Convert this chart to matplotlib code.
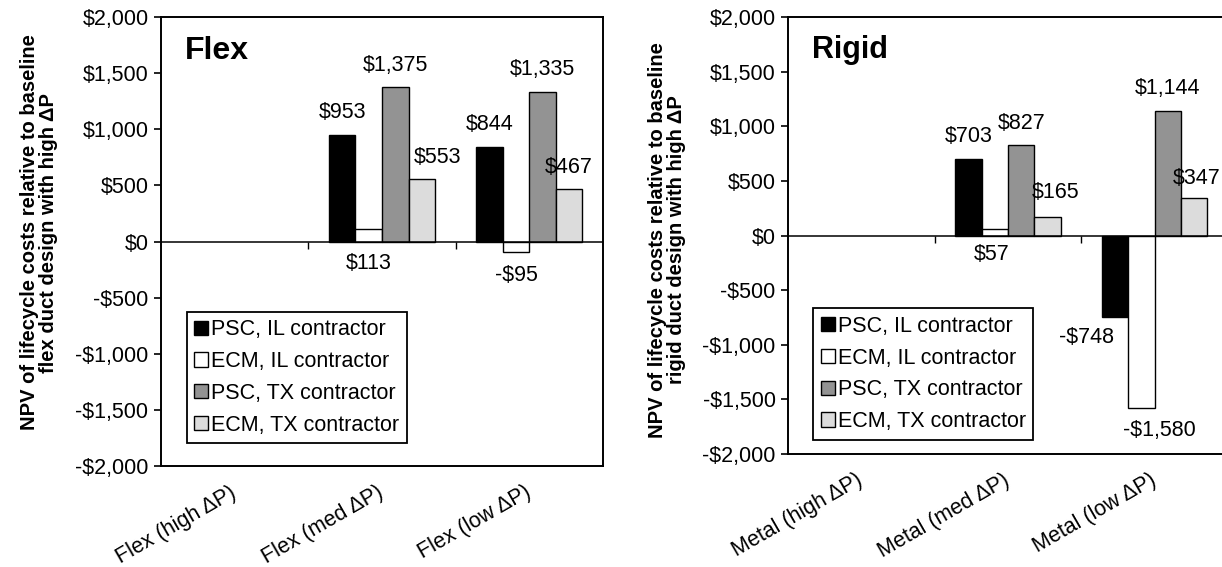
import matplotlib
matplotlib.use("Agg")
import matplotlib.pyplot as plt
from matplotlib.ticker import FuncFormatter, FixedLocator
from matplotlib.markers import TICKDOWN
import numpy as np

plt.rcParams['font.family'] = ['Liberation Sans', 'DejaVu Sans']

SERIES = ["PSC, IL contractor", "ECM, IL contractor",
          "PSC, TX contractor", "ECM, TX contractor"]
COLORS = ["#000000", "#ffffff", "#939393", "#dcdcdc"]

FLEX_CATS = ["Flex (high \u0394P)", "Flex (med \u0394P)", "Flex (low \u0394P)"]
RIGID_CATS = ["Metal (high \u0394P)", "Metal (med \u0394P)", "Metal (low \u0394P)"]

# values per series, across the three categories
FLEX_PSC_IL = [0, 953, 844]
FLEX_ECM_IL = [0, 113, -95]
FLEX_PSC_TX = [0, 1375, 1335]
FLEX_ECM_TX = [0, 553, 467]

RIGID_PSC_IL = [0, 703, -748]
RIGID_ECM_IL = [0, 57, -1580]
RIGID_PSC_TX = [0, 827, 1144]
RIGID_ECM_TX = [0, 165, 347]

# label placement tweaks (pixels): (category, series) -> (anchor_at_base, dx, dy)
FLEX_LABEL_TWEAKS = {(1, 1): (True, 0, -22), (1, 3): (False, 16, 22)}
RIGID_LABEL_TWEAKS = {(1, 1): (True, -3, -19), (1, 3): (False, 8, 25),
                      (2, 3): (False, 2, 19), (2, 0): (False, -29, -20),
                      (2, 1): (False, 18, -22)}

W = 1222
H = 567
BAR_W = 0.18
FS = 15.5


def money(v, pos=None):
    v = int(round(v))
    return f"-${abs(v):,}" if v < 0 else f"${v:,}"


def panel(rect, cats, values, title, title_fs, ylabel, tweaks, legend_anchor, ylabel_y):
    ax = fig.add_axes(rect)
    x = np.arange(len(cats))
    for i, (name, vals, col) in enumerate(zip(SERIES, values, COLORS)):
        xs = x + (i - 1.5) * BAR_W
        lws = [0 if v == 0 else 1.0 for v in vals]
        ax.bar(xs, vals, BAR_W, color=col, edgecolor="black", linewidth=lws,
               label=name, zorder=2)
        for j, (xx, v) in enumerate(zip(xs, vals)):
            if v == 0:
                continue
            at_base, dx, dy = tweaks.get((j, i), (False, 0, 22 if v > 0 else -23))
            yy = 0 if at_base else v
            ax.annotate(money(v), (xx, yy), xytext=(dx, dy),
                        textcoords="offset pixels", ha="center", va="center",
                        fontsize=FS, zorder=4)
    ax.axhline(0, color="black", linewidth=1.1, zorder=3)
    # category boundary tick marks on the zero line
    bounds = x[:-1] + 0.5
    ax.plot(bounds, np.zeros_like(bounds), linestyle="none", marker=TICKDOWN,
            markersize=5, markeredgewidth=1.0, color="black", zorder=3,
            clip_on=False)
    ax.set_xlim(-0.5, len(cats) - 0.5)
    ax.set_ylim(-2000, 2000)
    ax.yaxis.set_major_locator(FixedLocator(np.arange(-2000, 2001, 500)))
    ax.yaxis.set_major_formatter(FuncFormatter(money))
    ax.tick_params(axis="y", direction="out", length=5, width=1.2,
                   labelsize=FS, pad=4)
    ax.set_xticks(x)
    ax.set_xticklabels(cats, rotation=30, ha="right", va="center",
                       rotation_mode="anchor", fontsize=FS)
    ax.tick_params(axis="x", length=0, pad=18)
    for s in ax.spines.values():
        s.set_linewidth(1.4)
        s.set_color("black")
    ax.text(0.055, 0.925, title, transform=ax.transAxes, fontsize=title_fs,
            fontweight="bold", ha="left", va="center")
    ax.set_ylabel(ylabel, fontsize=14.5, fontweight="bold", linespacing=1.0)
    ax.yaxis.set_label_coords(-0.232, ylabel_y)
    leg = ax.legend(loc="lower left", bbox_to_anchor=legend_anchor,
                    borderaxespad=0, fontsize=FS, frameon=True, fancybox=False,
                    edgecolor="black", framealpha=1, handlelength=0.65,
                    handleheight=0.65, handletextpad=0.15, labelspacing=0.5,
                    borderpad=0.35)
    leg.get_frame().set_linewidth(1.3)
    for h in leg.legend_handles:
        h.set_linewidth(1.0)
    return ax


fig = plt.figure(figsize=(W / 100, H / 100), dpi=100)

panel([161 / W, (H - 466) / H, 442 / W, 449 / H], FLEX_CATS,
      [FLEX_PSC_IL, FLEX_ECM_IL, FLEX_PSC_TX, FLEX_ECM_TX], "Flex", 23,
      "NPV of lifecycle costs relative to baseline\nflex duct design with high \u0394P",
      FLEX_LABEL_TWEAKS, (0.058, 0.051), 0.52)

panel([788 / W, (H - 454) / H, 440 / W, 437 / H], RIGID_CATS,
      [RIGID_PSC_IL, RIGID_ECM_IL, RIGID_PSC_TX, RIGID_ECM_TX], "Rigid", 22,
      "NPV of lifecycle costs relative to baseline\nrigid duct design with high \u0394P",
      RIGID_LABEL_TWEAKS, (0.057, 0.033), 0.49)

fig.savefig("out.png", dpi=100)
